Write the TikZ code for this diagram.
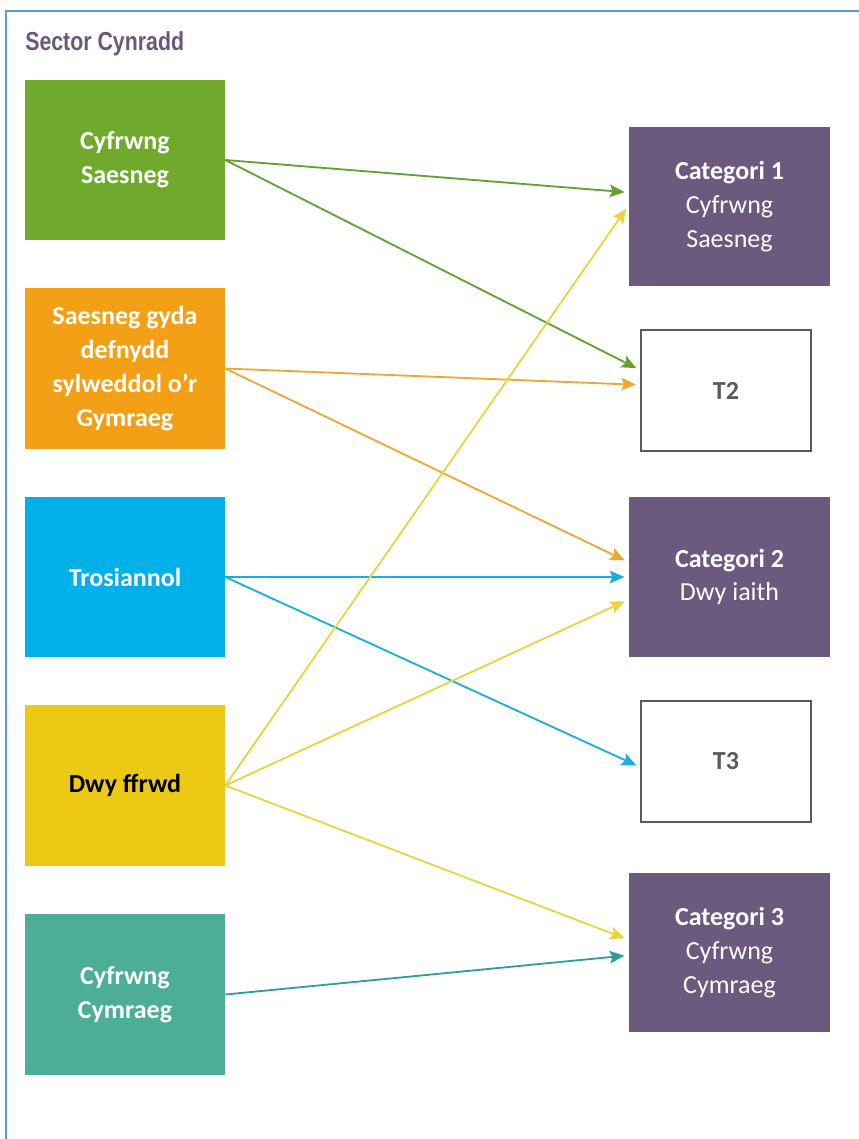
\documentclass[tikz,border=0pt]{standalone}
\usepackage{fontspec}
\setmainfont{Carlito}
\newfontfamily\titlefont[FakeStretch=0.82]{Liberation Sans}
\usetikzlibrary{arrows.meta}
\definecolor{frameblue}{RGB}{91,155,213}
\definecolor{ctitle}{RGB}{104,88,122}
\definecolor{cgreen}{RGB}{112,170,44}
\definecolor{corange}{RGB}{243,160,22}
\definecolor{cblue}{RGB}{0,176,232}
\definecolor{cyellow}{RGB}{236,201,20}
\definecolor{cteal}{RGB}{76,174,150}
\definecolor{cpurple}{RGB}{107,89,126}
\definecolor{tgray}{RGB}{90,90,90}
\definecolor{agreen}{RGB}{100,160,50}
\definecolor{aorange}{RGB}{234,168,52}
\definecolor{ablue}{RGB}{28,174,218}
\definecolor{ayellow}{RGB}{232,212,62}
\definecolor{ateal}{RGB}{48,158,158}
\tikzset{
  lbox/.style={minimum width=5cm, minimum height=4cm, inner sep=0pt, align=center, text=white, font=\fontsize{18.5}{24}\selectfont\bfseries},
  cbox/.style={fill=cpurple, minimum width=5.025cm, minimum height=3.975cm, inner sep=0pt, align=center, text=white, font=\fontsize{18.5}{24}\selectfont},
  tbox/.style={draw=tgray, line width=1.1pt, minimum width=4.25cm, minimum height=3.025cm, inner sep=0pt, text=tgray, font=\fontsize{18.5}{24}\selectfont\bfseries},
  link/.style={line width=1.3pt, shorten >=3pt, -{Stealth[length=10.5pt,width=9pt,inset=2pt]}}
}
\begin{document}
\begin{tikzpicture}[x=0.025cm,y=-0.025cm]
  \useasboundingbox (0,0) rectangle (859,1139);
  \draw[frameblue,line width=1.4pt] (6,1139) -- (6,11) -- (859,11);
  \node[anchor=west,inner sep=0pt,text=ctitle,font=\titlefont\fontsize{18.5}{22}\selectfont\bfseries] (title) at (25,44) {Sector Cynradd};

  \node[lbox,fill=cgreen]  (saes) at (125,160)  {Cyfrwng\\Saesneg};
  \node[lbox,fill=corange] (sgyd) at (125,368.5) {Saesneg gyda\\defnydd\\sylweddol o'r\\Gymraeg};
  \node[lbox,fill=cblue]   (tros) at (125,577)  {Trosiannol};
  \node[lbox,fill=cyellow,text=black] (dwyf) at (125,785.5) {Dwy ffrwd};
  \node[lbox,fill=cteal]   (cymr) at (125,994.5) {Cyfrwng\\Cymraeg};

  \node[cbox] (cat1) at (729.5,206.5) {\textbf{Categori 1}\\Cyfrwng\\Saesneg};
  \node[tbox] (t2)   at (726,390.5)   {T2};
  \node[cbox] (cat2) at (729.5,577)   {\textbf{Categori 2}\\Dwy iaith};
  \node[tbox] (t3)   at (726,761.5)   {T3};
  \node[cbox] (cat3) at (729.5,952.5) {\textbf{Categori 3}\\Cyfrwng\\Cymraeg};

  \draw[link,agreen]  (saes.east) -- ([yshift=10pt]cat1.west);
  \draw[link,agreen]  (saes.east) -- ([yshift=14.5pt]t2.west);
  \draw[link,aorange] (sgyd.east) -- ([yshift=4pt]t2.west);
  \draw[link,aorange] (sgyd.east) -- ([yshift=10.5pt]cat2.west);
  \draw[link,ablue]   (tros.east) -- (cat2.west);
  \draw[link,ablue]   (tros.east) -- ([yshift=-4pt]t3.west);
  \draw[link,ayellow] (dwyf.east) -- ([yshift=1pt]cat1.west);
  \draw[link,ayellow] (dwyf.east) -- ([yshift=-16pt]cat2.west);
  \draw[link,ayellow] (dwyf.east) -- ([yshift=9pt]cat3.west);
  \draw[link,ateal]   (cymr.east) -- ([yshift=-2pt]cat3.west);
\end{tikzpicture}
\end{document}
